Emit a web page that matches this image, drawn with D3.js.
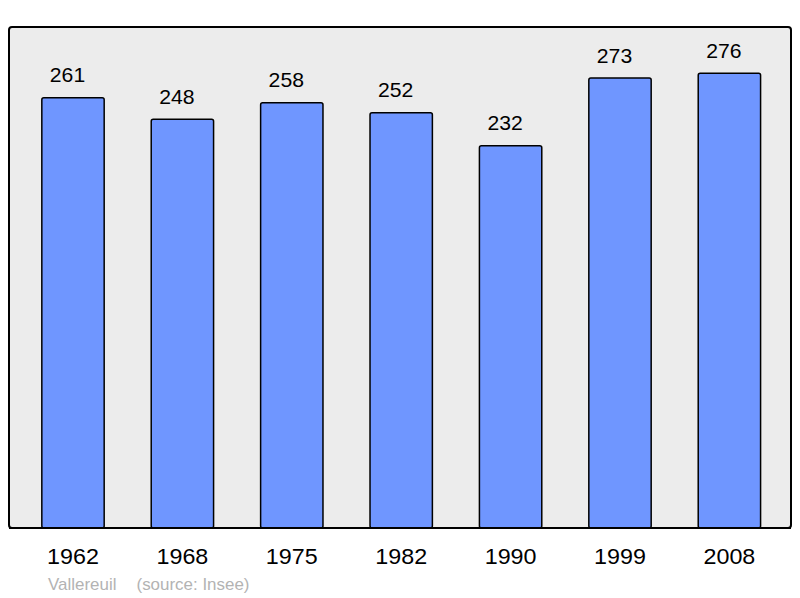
<!DOCTYPE html>
<html>
<head>
<meta charset="utf-8">
<script src="https://cdn.jsdelivr.net/npm/d3@7"></script>
<style>
  body { margin: 0; background: #fff; }
  text { font-family: "Liberation Sans", Arial, sans-serif; }
</style>
</head>
<body>
<div id="chart"></div>
<script>
'use strict';

const years = ['1962', '1968', '1975', '1982', '1990', '1999', '2008'];
const population = [261, 248, 258, 252, 232, 273, 276];
const town = 'Vallereuil';
const source = '(source: Insee)';

var width = 800,
    height = 598,
    panel = {left: 9, top: 27, right: 791, bottom: 528},
    stretch = 1.06;

var svg = d3.select('#chart')
    .append('svg')
    .attr('width', width)
    .attr('height', height);

var x = d3.scaleBand()
    .domain(years)
    .range([18.3, 784.1])
    .paddingInner(0.43)
    .paddingOuter(0.215);

var y = d3.scaleLinear()
    .domain([0, 304])
    .range([panel.bottom, panel.top]);

function place (tx, ty) {
    return 'translate(' + tx + ',' + ty + ') scale(' + stretch + ',1)';
}

// background panel
svg.append('rect')
    .attr('x', panel.left)
    .attr('y', panel.top)
    .attr('width', panel.right - panel.left)
    .attr('height', panel.bottom - panel.top)
    .attr('rx', 3)
    .attr('fill', '#ececec')
    .attr('stroke', '#000')
    .attr('stroke-width', 2);

var data = years.map(function (d, i) { return {year: d, value: population[i]}; });

// bars
svg.selectAll('rect.bar')
    .data(data)
    .enter().append('rect')
    .attr('class', 'bar')
    .attr('x', function (d) { return x(d.year); })
    .attr('y', function (d) { return y(d.value); })
    .attr('width', x.bandwidth())
    .attr('height', function (d) { return panel.bottom - y(d.value); })
    .attr('rx', 2)
    .attr('fill', '#6f96ff')
    .attr('stroke', '#000')
    .attr('stroke-width', 1.5);

// redraw panel bottom edge over bars
svg.append('line')
    .attr('x1', panel.left)
    .attr('x2', panel.right)
    .attr('y1', panel.bottom)
    .attr('y2', panel.bottom)
    .attr('stroke', '#000')
    .attr('stroke-width', 2);

// value labels
svg.selectAll('text.value')
    .data(data)
    .enter().append('text')
    .attr('class', 'value')
    .attr('transform', function (d) {
        return place(x(d.year) + x.bandwidth() / 2 - 5.5, y(d.value) - 15.5);
    })
    .attr('text-anchor', 'middle')
    .attr('font-size', 20)
    .attr('fill', '#000')
    .text(function (d) { return d.value; });

// year labels
svg.selectAll('text.year')
    .data(data)
    .enter().append('text')
    .attr('class', 'year')
    .attr('transform', function (d) {
        return place(x(d.year) + x.bandwidth() / 2, 563.5);
    })
    .attr('text-anchor', 'middle')
    .attr('font-size', 22)
    .attr('fill', '#000')
    .text(function (d) { return d.year; });

// footer
svg.append('text')
    .attr('transform', place(48, 590))
    .attr('font-size', 16)
    .attr('fill', '#b3b3b3')
    .text(town);

svg.append('text')
    .attr('transform', place(136.5, 590))
    .attr('font-size', 16)
    .attr('fill', '#b3b3b3')
    .text(source);
</script>
</body>
</html>
